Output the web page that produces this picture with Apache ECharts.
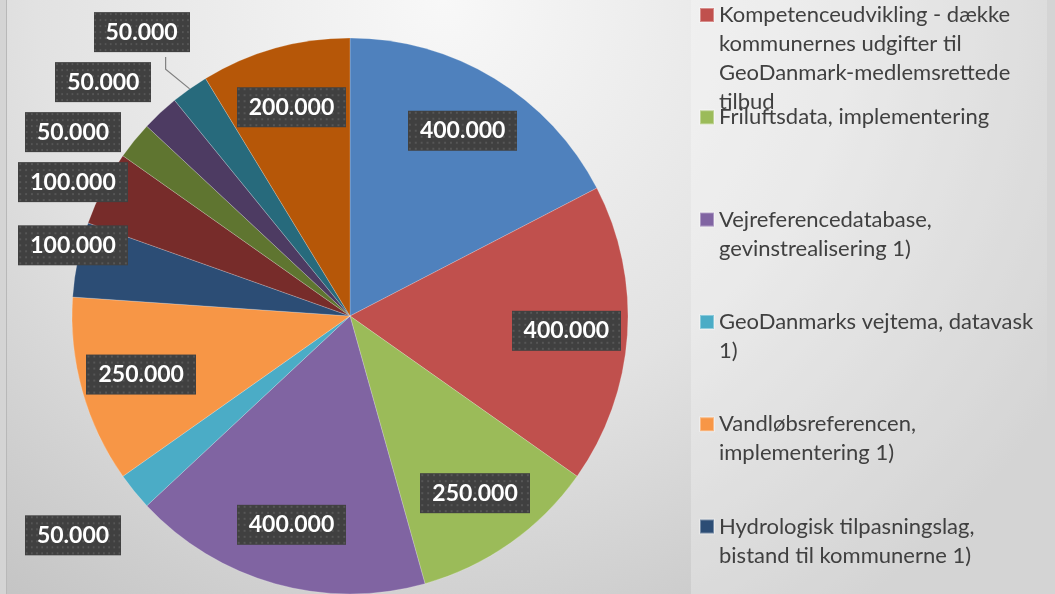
<!DOCTYPE html>
<html>
<head>
<meta charset="utf-8">
<script src="https://cdn.jsdelivr.net/npm/echarts@6/dist/echarts.min.js"></script>
<style>
html, body { margin: 0; padding: 0; background: #d4d4d4; overflow: hidden; }
#chart { position: absolute; left: 6px; top: 0; width: 1040px; height: 594px; border-left: 1px solid #b8b8b8; }
</style>
</head>
<body>
<div id="chart"></div>
<script>
// slice names, only the legend entries visible in the picture are known
const names = [
  '',
  'Kompetenceudvikling - dække kommunernes udgifter til GeoDanmark-medlemsrettede tilbud',
  'Friluftsdata, implementering',
  'Vejreferencedatabase, gevinstrealisering 1)',
  'GeoDanmarks vejtema, datavask 1)',
  'Vandløbsreferencen, implementering 1)',
  'Hydrologisk tilpasningslag, bistand til kommunerne 1)',
  '', '', '', '', ''
]
const values = [400000, 400000, 250000, 400000, 50000, 250000, 100000, 100000, 50000, 50000, 50000, 200000]
const colors = ['#4F81BD', '#C0504D', '#9BBB59', '#8064A2', '#4BACC6', '#F79646',
  '#2C4D75', '#772C2A', '#5F7530', '#4D3B62', '#276A7C', '#B65708']

const cx = 343
const cy = 316
const R = 278
const font = 'Lato, "Open Sans", sans-serif'
const legendSize = 22
const lineH = 29

// danish thousands separator
const fmt = v => String(v).replace(/\B(?=(\d{3})+(?!\d))/g, '.')

// mid angle of every slice, clockwise from 12 o'clock
const total = values.reduce((a, b) => a + b, 0)
let acc = 0
const midAngles = values.map(v => {
  const m = (acc + v / 2) / total * Math.PI * 2
  acc += v
  return m
})

// dotted dark texture for the label boxes, with a clear 5px strip top and bottom
// so stacked labels keep a gap when they are shifted apart
const tile = document.createElement('canvas')
tile.width = 112
tile.height = 50
const tc = tile.getContext('2d')
tc.fillStyle = '#404040'
tc.fillRect(0, 5, 112, 40)
tc.fillStyle = '#565656'
for (let x = 1; x < 112; x += 6) {
  for (let y = 6; y < 45; y += 6) tc.fillRect(x, y, 2, 2)
}

// wrap legend text like the excel legend does
const meas = document.createElement('canvas').getContext('2d')
meas.font = legendSize + 'px ' + font
function wrap(text, maxW) {
  const words = text.split(' ')
  const lines = []
  let cur = ''
  words.forEach(w => {
    const t = cur ? cur + ' ' + w : w
    if (cur && meas.measureText(t).width > maxW) {
      lines.push(cur)
      cur = w
    } else {
      cur = t
    }
  })
  lines.push(cur)
  return lines
}

// one legend per entry so they sit on a fixed pitch with the marker on the first line
const legends = []
names.forEach((n, i) => {
  if (!n) return
  const lines = wrap(n, 320)
  const iconY = 15 + (i - 1) * 102.3
  // blank lines above keep the first text line level with the marker
  const txt = '\n'.repeat(lines.length - 1) + lines.join('\n')
  legends.push({
    data: [n],
    orient: 'vertical',
    left: 692,
    top: iconY - (2 * lines.length - 1) * lineH / 2,
    padding: 0,
    itemWidth: 14,
    itemHeight: 14,
    icon: 'rect',
    selectedMode: false,
    formatter: () => txt,
    textStyle: {
      fontFamily: font,
      fontSize: legendSize,
      color: '#404040',
      lineHeight: lineH
    }
  })
})

const chart = echarts.init(document.getElementById('chart'))
chart.setOption({
  animation: false,
  backgroundColor: {
    type: 'radial',
    x: 0.42,
    y: 0,
    r: 1.25,
    colorStops: [
      { offset: 0, color: '#f8f8f8' },
      { offset: 0.55, color: '#e2e2e2' },
      { offset: 1, color: '#c4c4c4' }
    ]
  },
  // lighter legend panel
  graphic: [{
    type: 'rect',
    left: 684,
    top: 0,
    z: -1,
    shape: { width: 356, height: 594 },
    style: { fill: 'rgba(255,255,255,0.27)' },
    silent: true
  }],
  legend: legends,
  series: [{
    type: 'pie',
    center: [cx, cy],
    radius: R,
    startAngle: 90,
    clockwise: true,
    avoidLabelOverlap: false,
    itemStyle: { borderColor: 'rgba(255,255,255,0.35)', borderWidth: 0.6 },
    label: {
      formatter: p => fmt(p.value),
      color: '#fff',
      fontFamily: font,
      fontWeight: 'bold',
      fontSize: 23,
      lineHeight: 28,
      padding: [11, 12],
      backgroundColor: { image: tile },
      shadowColor: 'rgba(0,0,0,0.45)',
      shadowBlur: 6,
      shadowOffsetX: 3,
      shadowOffsetY: 4
    },
    labelLine: {
      length: 10,
      length2: 12,
      lineStyle: { color: '#7f7f7f', width: 1.2 }
    },
    labelLayout: p => {
      const a = midAngles[p.dataIndex]
      if (values[p.dataIndex] >= 200000) {
        return {
          x: cx + 0.78 * R * Math.sin(a),
          y: cy - 0.78 * R * Math.cos(a),
          align: 'center',
          verticalAlign: 'middle'
        }
      }
      // small slices: outside the rim, kept inside the left edge
      return {
        x: Math.max(cx + 1.3 * R * Math.sin(a), 66),
        y: cy - 1.25 * R * Math.cos(a),
        align: 'center',
        verticalAlign: 'middle',
        moveOverlap: 'shiftY'
      }
    },
    data: values.map((v, i) => ({
      name: names[i],
      value: v,
      itemStyle: { color: colors[i] },
      // only the topmost small label gets a leader line in the picture
      labelLine: { show: i === 10 }
    }))
  }]
})
</script>
</body>
</html>
